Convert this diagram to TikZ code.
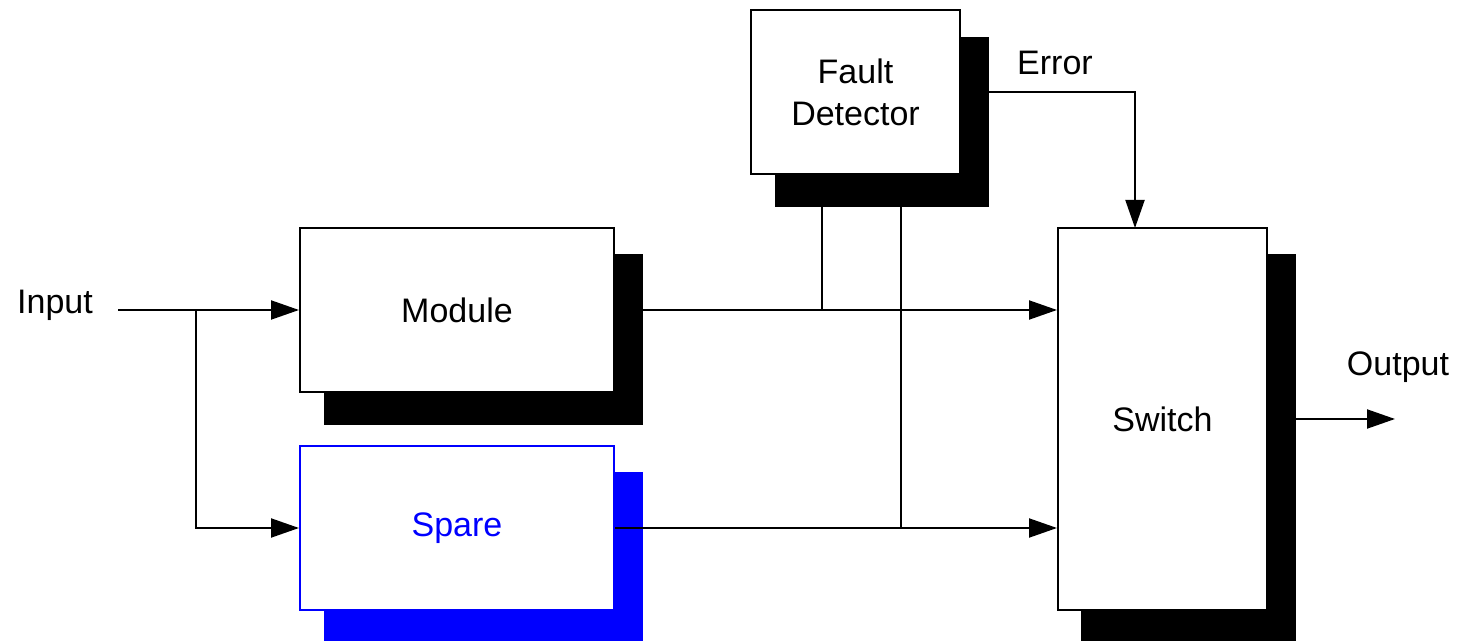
\documentclass[tikz,border=0pt]{standalone}
\usepackage{fontspec}
\setmainfont{Liberation Sans}
\usetikzlibrary{arrows.meta}
\definecolor{pureblue}{RGB}{0,0,255}
\tikzset{
  blk/.style={draw=black, fill=white, line width=1pt, inner sep=0pt, font=\fontsize{17pt}{21pt}\selectfont, align=center},
  shd/.style={draw=black, fill=black, line width=1pt, inner sep=0pt},
  bblk/.style={blk, draw=pureblue, text=pureblue},
  bshd/.style={shd, draw=pureblue, fill=pureblue},
  wire/.style={line width=1pt, draw=black},
  arr/.style={wire, -{Triangle[length=14pt, width=9.5pt]}},
  lbl/.style={inner sep=0pt, font=\fontsize{17pt}{21pt}\selectfont}
}
\begin{document}
\begin{tikzpicture}[x=0.5pt, y=-0.5pt]
\useasboundingbox (0,0) rectangle (1457,641);
% shadows
\node[shd, minimum width=106pt, minimum height=84pt] (fdsh) at (882,122) {};
\node[shd, minimum width=158.5pt, minimum height=84.5pt] (modsh) at (483.5,339.5) {};
\node[bshd, minimum width=158.5pt, minimum height=83.5pt] (spsh) at (483.5,556.5) {};
\node[shd, minimum width=106.5pt, minimum height=192.5pt] (swsh) at (1188.5,447.5) {};
% main boxes
\node[blk, minimum width=104.5pt, minimum height=82pt] (fd) at (855.5,92) {Fault\\Detector};
\node[blk, minimum width=157pt, minimum height=82pt] (mod) at (457,310) {Module};
\node[bblk, minimum width=157pt, minimum height=82pt] (sp) at (457,528) {Spare};
\node[blk, minimum width=104.5pt, minimum height=191pt] (sw) at (1162.5,419) {Switch};
% labels
\node[lbl] (inlbl) at (55,305) {Input};
\node[lbl] (errlbl) at (1055,63) {Error};
\node[lbl] (outlbl) at (1398,367) {Output};
% coordinates
\coordinate (instart) at (118,310);
\coordinate (br) at (196,310);
\coordinate (tap1) at (822,310);
\coordinate (tap2) at (901,528);
\coordinate (errdrop) at (1135,228);
\coordinate (outend) at (1395,419);
% connectors
\draw[arr] (instart) -- (mod.west);
\draw[arr] (br) |- (sp.west);
\draw[arr] (mod.east) -- (sw.west |- mod.east);
\draw[arr] (sp.east) -- (sw.west |- sp.east);
\draw[wire] (fdsh.south -| tap1) -- (tap1);
\draw[wire] (fdsh.south -| tap2) -- (tap2);
\draw[arr] (fdsh.east |- fd.east) -| (errdrop);
\draw[arr] (swsh.east |- sw.east) -- (outend);
\end{tikzpicture}
\end{document}
